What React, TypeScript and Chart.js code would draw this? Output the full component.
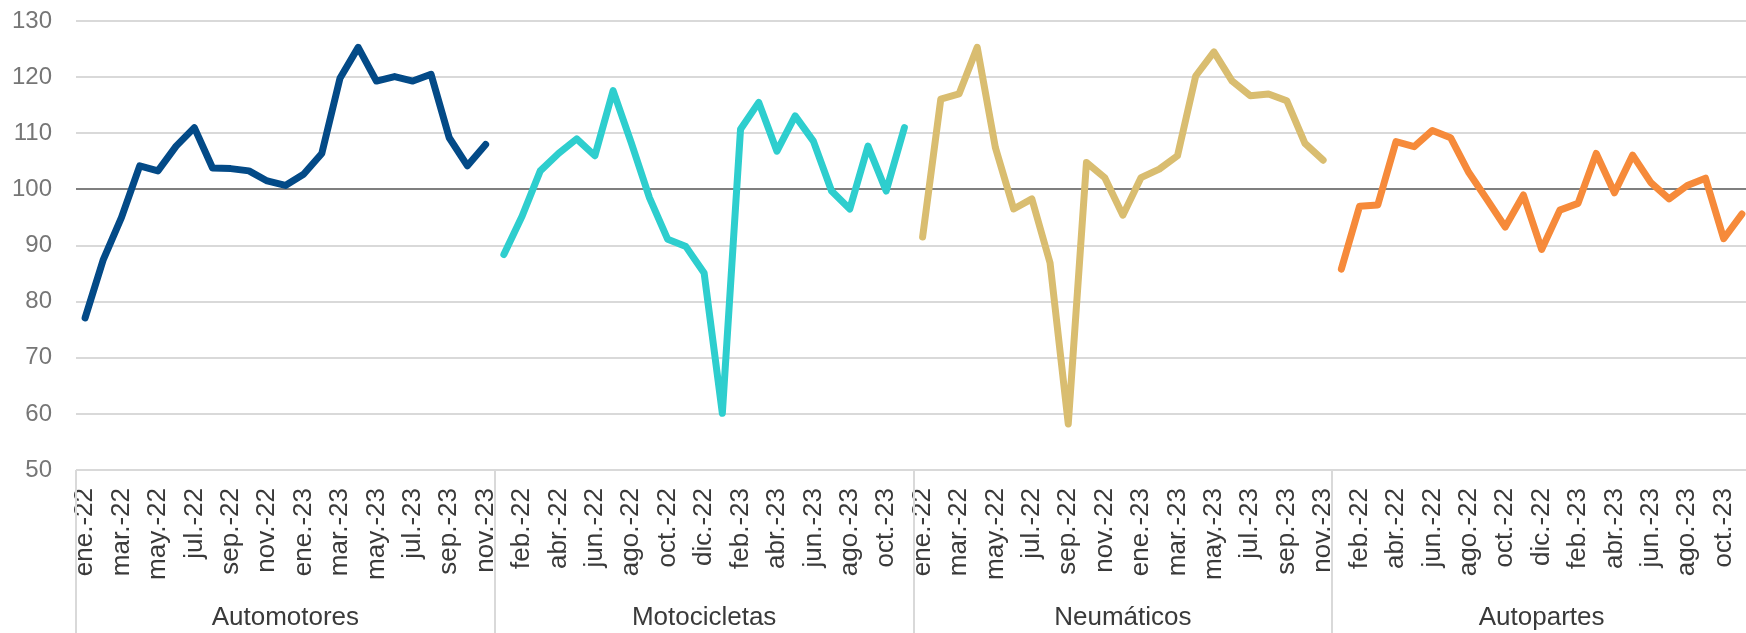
import { useEffect, useRef } from 'react';
import { Chart, registerables } from 'chart.js';

Chart.register(...registerables);

const periods = [
  'ene.-22', 'feb.-22', 'mar.-22', 'abr.-22', 'may.-22', 'jun.-22', 'jul.-22', 'ago.-22', 'sep.-22', 'oct.-22', 'nov.-22', 'dic.-22',
  'ene.-23', 'feb.-23', 'mar.-23', 'abr.-23', 'may.-23', 'jun.-23', 'jul.-23', 'ago.-23', 'sep.-23', 'oct.-23', 'nov.-23',
];
const groups = ['Automotores', 'Motocicletas', 'Neumáticos', 'Autopartes'];

const automotores = [77.1, 87.5, 95.0, 104.2, 103.3, 107.7, 111.0, 103.8, 103.7, 103.3, 101.5, 100.7, 102.7, 106.4, 119.8, 125.3, 119.3, 120.1, 119.3, 120.5, 109.2, 104.2, 108.0];
const motocicletas = [88.4, 95.2, 103.3, 106.4, 109.0, 106.0, 117.6, 108.3, 98.5, 91.1, 89.8, 85.1, 60.1, 110.7, 115.5, 106.8, 113.1, 108.6, 99.7, 96.5, 107.7, 99.7, 111.0];
const neumaticos = [91.5, 116.1, 117.0, 125.3, 107.4, 96.5, 98.3, 86.9, 58.2, 104.8, 102.1, 95.4, 102.1, 103.6, 106.0, 120.2, 124.5, 119.3, 116.7, 117.0, 115.8, 108.2, 105.2];
const autopartes = [85.8, 97.0, 97.2, 108.5, 107.6, 110.5, 109.2, 103.0, 98.2, 93.3, 99.0, 89.3, 96.3, 97.5, 106.4, 99.4, 106.1, 101.2, 98.3, 100.7, 102.0, 91.2, 95.6];

const seriesValues = [automotores, motocicletas, neumaticos, autopartes];
const seriesColors = ['#034a87', '#2ecece', '#d9bd70', '#f68a3a'];

const yTicks = [50, 60, 70, 80, 90, 100, 110, 120, 130];

const categories = groups.flatMap(() => periods);

function padSeries(values: number[], groupIndex: number): (number | null)[] {
  const out: (number | null)[] = categories.map(() => null);
  values.forEach((v, j) => {
    out[groupIndex * periods.length + j] = v;
  });
  return out;
}

const separatorPlugin = {
  id: 'groupSeparators',
  afterDraw(chart: any) {
    const xs = chart.scales.x;
    const ctx = chart.ctx;
    const half = (xs.getPixelForValue(1) - xs.getPixelForValue(0)) / 2;
    ctx.save();
    ctx.strokeStyle = '#d9d9d9';
    ctx.lineWidth = 2;
    for (let k = 0; k <= groups.length; k++) {
      const x = Math.round(xs.getPixelForValue(k * periods.length) - half);
      ctx.beginPath();
      ctx.moveTo(x, chart.chartArea.bottom);
      ctx.lineTo(x, chart.height);
      ctx.stroke();
    }
    ctx.restore();
  },
};

export default function App() {
  const canvasRef = useRef<HTMLCanvasElement | null>(null);

  useEffect(() => {
    const canvas = canvasRef.current;
    if (!canvas) return;
    const chart = new Chart(canvas, {
      type: 'line',
      data: {
        labels: categories,
        datasets: seriesValues.map((vals, g) => ({
          label: groups[g],
          data: padSeries(vals, g),
          borderColor: seriesColors[g],
          backgroundColor: seriesColors[g],
          borderWidth: 7,
          pointRadius: 0,
          pointHoverRadius: 0,
          tension: 0,
          spanGaps: false,
          borderJoinStyle: 'round',
          borderCapStyle: 'round',
          xAxisID: 'x',
          yAxisID: 'y',
        })),
      },
      options: {
        animation: false,
        responsive: false,
        devicePixelRatio: 1,
        layout: { padding: { top: 21, left: 0, right: 0, bottom: 0 } },
        plugins: {
          legend: { display: false },
          tooltip: { enabled: false },
        },
        scales: {
          y: {
            min: 50,
            max: 130,
            afterBuildTicks: (scale: any) => {
              scale.ticks = yTicks.map((v) => ({ value: v }));
            },
            afterFit: (scale: any) => {
              scale.width = 76;
              scale.paddingTop = 0;
              scale.paddingBottom = 0;
            },
            border: { display: false },
            grid: {
              drawTicks: false,
              lineWidth: 2,
              color: (ctx: any) => (ctx.tick && ctx.tick.value === 100 ? '#7f7f7f' : '#d9d9d9'),
            },
            ticks: {
              padding: 24,
              color: '#767676',
              font: { family: '"Liberation Sans", Arial, sans-serif', size: 24 },
            },
          },
          x: {
            type: 'category',
            offset: true,
            weight: 0,
            border: { display: false },
            grid: { display: false, drawTicks: false },
            afterFit: (scale: any) => {
              scale.height = 120;
              scale.paddingLeft = 0;
              scale.paddingRight = 0;
            },
            ticks: {
              autoSkip: false,
              maxRotation: 90,
              minRotation: 90,
              padding: 18,
              color: '#3a3a3a',
              font: { family: '"Liberation Sans", Arial, sans-serif', size: 26 },
              callback: (_v: any, index: number) => (index % 2 === 0 ? categories[index] : ''),
            },
          },
          g: {
            type: 'category',
            position: 'bottom',
            labels: groups,
            offset: true,
            weight: 1,
            border: { display: false },
            grid: { display: false, drawTicks: false },
            afterFit: (scale: any) => {
              scale.height = 43;
              scale.paddingLeft = 0;
              scale.paddingRight = 0;
            },
            ticks: {
              autoSkip: false,
              maxRotation: 0,
              minRotation: 0,
              padding: 12,
              color: '#3a3a3a',
              font: { family: '"Liberation Sans", Arial, sans-serif', size: 26 },
            },
          },
        },
      } as any,
      plugins: [separatorPlugin],
    });
    return () => chart.destroy();
  }, []);

  return (
    <div style={{ position: 'absolute', left: 0, top: 0, width: 1746, height: 633, overflow: 'hidden', background: '#ffffff' }}>
      <canvas ref={canvasRef} width={1751} height={633} style={{ display: 'block', width: 1751, height: 633 }} />
    </div>
  );
}
